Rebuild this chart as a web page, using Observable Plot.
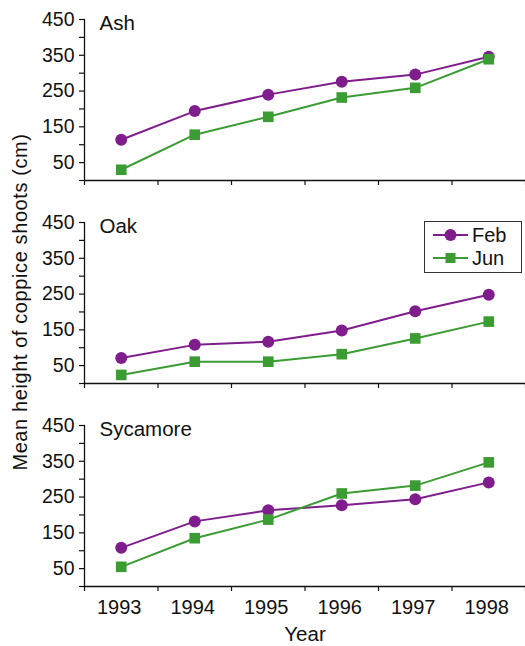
<!DOCTYPE html>
<html>
<head>
<meta charset="utf-8">
<script src="https://cdn.jsdelivr.net/npm/d3@7"></script>
<script src="https://cdn.jsdelivr.net/npm/@observablehq/plot@0.6"></script>
<style>
  html, body { margin: 0; padding: 0; background: #fff; }
  #wrap { position: relative; width: 525px; height: 646px; font-family: "Liberation Sans", Arial, Helvetica, sans-serif; }
  #legend { position: absolute; left: 424px; top: 221px; width: 96px; height: 50px; border: 1.3px solid #333; background: #fff; }
</style>
</head>
<body>
<div id="wrap"></div>
<script>
const years = [1993, 1994, 1995, 1996, 1997, 1998];
const species = ["Ash", "Oak", "Sycamore"];
const months = ["Feb", "Jun"];
const ashFeb = [114, 194, 240, 276, 296, 346];
const ashJun = [30, 128, 178, 232, 259, 339];
const oakFeb = [71, 108, 117, 148, 202, 248];
const oakJun = [24, 61, 61, 82, 126, 173];
const sycFeb = [108, 182, 213, 227, 244, 291];
const sycJun = [55, 135, 187, 260, 282, 347];
const yTickLabels = [50, 150, 250, 350, 450];
const yTicks = [0, 50, 100, 150, 200, 250, 300, 350, 400, 450];
const yearEdges = [1992.5, 1993.5, 1994.5, 1995.5, 1996.5, 1997.5, 1998.5];

const purple = "#7f1d8c";
const green = "#3c9c34";

const series = [
  ["Ash", "Feb", ashFeb], ["Ash", "Jun", ashJun],
  ["Oak", "Feb", oakFeb], ["Oak", "Jun", oakJun],
  ["Sycamore", "Feb", sycFeb], ["Sycamore", "Jun", sycJun]
];
const data = series.flatMap(([sp, m, vals]) => vals.map((v, i) => ({species: sp, month: m, year: years[i], value: v})));
const feb = data.filter(d => d.month === "Feb");
const jun = data.filter(d => d.month === "Jun");

const plot = Plot.plot({
  width: 525,
  height: 646,
  marginLeft: 84,
  marginRight: 0,
  marginTop: 17.7,
  marginBottom: 59.3,
  style: {fontFamily: "'Liberation Sans', Arial, Helvetica, sans-serif", fontSize: "19px", color: "#111", background: "#fff"},
  x: {domain: [1992.5, 1998.5]},
  y: {domain: [0, 450]},
  fy: {domain: species, paddingInner: 0.206, paddingOuter: 0, axis: null},
  color: {domain: months, range: [purple, green]},
  symbol: {domain: months, range: ["circle", "square"]},
  marks: [
    Plot.frame({anchor: "left", strokeWidth: 1.3, stroke: "#111"}),
    Plot.frame({anchor: "bottom", strokeWidth: 1.3, stroke: "#111"}),
    Plot.axisY({ticks: yTicks, tickSize: 5, tickFormat: () => "", strokeWidth: 1.2, stroke: "#111", label: null}),
    Plot.axisY({ticks: yTickLabels, tickSize: 0, tickPadding: 10, fontSize: 19.5, label: null}),
    Plot.axisX({ticks: yearEdges, tickSize: 5, tickFormat: () => "", strokeWidth: 1.2, stroke: "#111", facetAnchor: null, label: null}),
    Plot.axisX({ticks: years, tickSize: 0, tickPadding: 13, tickFormat: d => String(d), fontSize: 20, dx: -2, label: null}),
    Plot.line(feb, {x: "year", y: "value", fy: "species", stroke: "month", strokeWidth: 2}),
    Plot.dot(feb, {x: "year", y: "value", fy: "species", fill: "month", symbol: "month", r: 6, stroke: "none"}),
    Plot.line(jun, {x: "year", y: "value", fy: "species", stroke: "month", strokeWidth: 2}),
    Plot.dot(jun, {x: "year", y: "value", fy: "species", fill: "month", symbol: "month", r: 6, stroke: "none"}),
    Plot.text(species, {fy: d => d, text: d => d, frameAnchor: "top-left", dx: 15, dy: 4, lineAnchor: "middle", textAnchor: "start", fontSize: 20.5, fill: "#111"})
  ]
});

const svg = d3.select(plot);
svg.append("text")
  .attr("transform", "translate(27,302) rotate(-90)")
  .attr("text-anchor", "middle")
  .attr("font-size", 20)
  .attr("letter-spacing", "0.6px")
  .attr("fill", "#111")
  .text("Mean height of coppice shoots (cm)");
svg.append("text")
  .attr("x", 305)
  .attr("y", 641)
  .attr("text-anchor", "middle")
  .attr("font-size", 20.5)
  .attr("fill", "#111")
  .text("Year");

const wrap = document.getElementById("wrap");
wrap.appendChild(plot);

// legend
const legend = document.createElement("div");
legend.id = "legend";
const ls = d3.create("svg").attr("width", 96).attr("height", 50);
months.forEach((m, i) => {
  const cy = 13 + i * 23;
  const col = m === "Feb" ? purple : green;
  ls.append("line").attr("x1", 8).attr("x2", 43).attr("y1", cy).attr("y2", cy).attr("stroke", col).attr("stroke-width", 2);
  if (m === "Feb") ls.append("circle").attr("cx", 25.5).attr("cy", cy).attr("r", 6).attr("fill", col);
  else ls.append("rect").attr("x", 20.5).attr("y", cy - 5).attr("width", 10).attr("height", 10).attr("fill", col);
  ls.append("text").attr("x", 47).attr("y", cy + 7).attr("font-size", 20).attr("fill", "#111")
    .attr("font-family", "'Liberation Sans', Arial, sans-serif").text(m);
});
legend.appendChild(ls.node());
wrap.appendChild(legend);
</script>
</body>
</html>
